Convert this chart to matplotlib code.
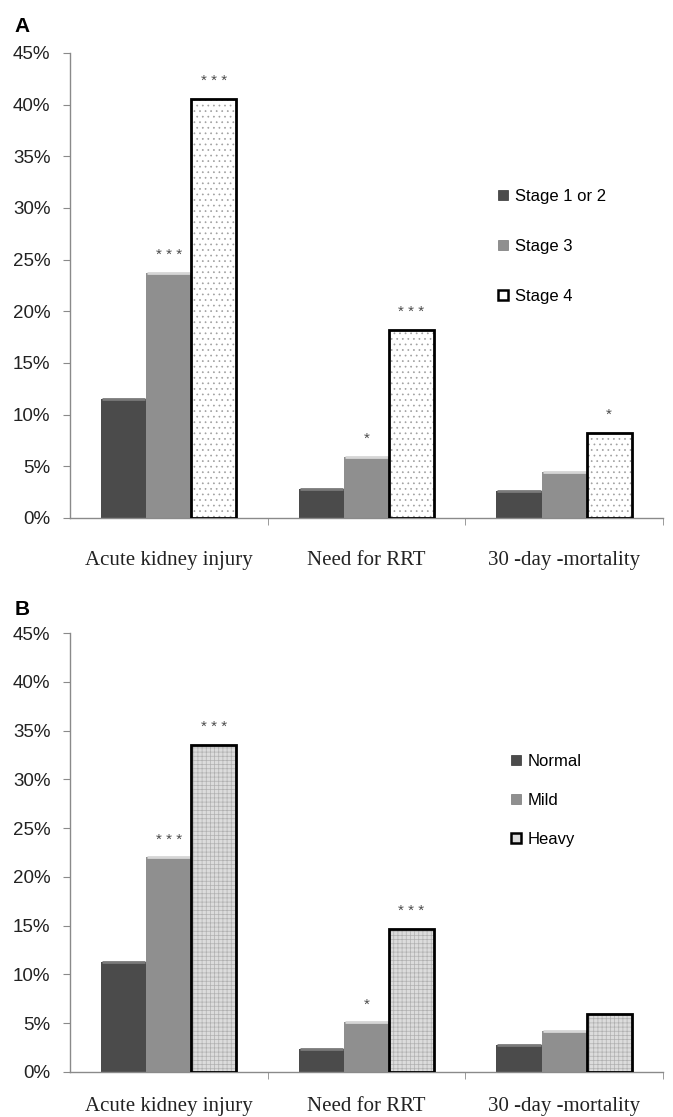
import numpy as np
import matplotlib
matplotlib.use("Agg")
import matplotlib.pyplot as plt
from matplotlib.patches import Patch

# ---------------- data ----------------
categories = ["Acute kidney injury", "Need for RRT", "30 -day -mortality"]

labels_a = ["Stage 1 or 2", "Stage 3", "Stage 4"]
values_a = [
    [11.5, 2.8, 2.6],    # Stage 1 or 2
    [23.7, 5.9, 4.4],    # Stage 3
    [40.5, 18.2, 8.2],   # Stage 4
]
stars_a = [
    ["", "", ""],
    ["***", "*", ""],
    ["***", "***", "*"],
]

labels_b = ["Normal", "Mild", "Heavy"]
values_b = [
    [11.3, 2.4, 2.8],    # Normal
    [22.0, 5.1, 4.2],    # Mild
    [33.5, 14.7, 5.9],   # Heavy
]
stars_b = [
    ["", "", ""],
    ["***", "*", ""],
    ["***", "***", ""],
]

yticks = [0, 5, 10, 15, 20, 25, 30, 35, 40, 45]

plt.rcParams["font.family"] = ["Liberation Sans", "DejaVu Sans"]
plt.rcParams["hatch.linewidth"] = 0.5

fig = plt.figure(figsize=(6.73, 11.17), dpi=100)

ax_a = fig.add_axes([0.104, 0.5363, 0.881, 0.4163])
ax_b = fig.add_axes([0.104, 0.0403, 0.881, 0.3930])

bar_w = 0.228
offsets = [-bar_w, 0, bar_w]
AXIS_GREY = "#8a8a8a"


def draw_panel(ax, values, stars, labels, last_face, last_hatch, hatch_col,
               leg_xy, leg_space, label_pad):
    x = np.arange(len(categories))
    fills = ["#4b4b4b", "#8f8f8f"]
    tops = ["#7a7a7a", "#d6d6d6"]
    for i in range(2):
        ax.bar(x + offsets[i], values[i], bar_w, color=fills[i],
               edgecolor="none", zorder=2)
        ax.hlines(values[i], x + offsets[i] - bar_w / 2 + 0.005,
                  x + offsets[i] + bar_w / 2 - 0.005, color=tops[i],
                  lw=2, zorder=3)
    # hatched series: pattern layer then thick black outline
    ax.bar(x + offsets[2], values[2], bar_w, color=last_face,
           edgecolor=hatch_col, linewidth=0, hatch=last_hatch, zorder=2)
    ax.bar(x + offsets[2], values[2], bar_w, fill=False,
           edgecolor="black", linewidth=2.0, zorder=4)

    for i in range(3):
        for j in range(len(categories)):
            if stars[i][j]:
                ax.text(x[j] + offsets[i], values[i][j] + 1.1,
                        " ".join(stars[i][j]),
                        ha="center", va="bottom", fontsize=11, color="#4a4a4a")

    ax.set_xlim(-0.5, 2.5)
    ax.set_ylim(0, 45)
    ax.set_yticks(yticks)
    ax.set_yticklabels([f"{t}%" for t in yticks], fontsize=13.5, color="#222222")
    ax.tick_params(axis="y", direction="out", length=5, color=AXIS_GREY, pad=9)

    ax.set_xticks(x)
    ax.set_xticklabels(categories, fontsize=15, family=["Liberation Serif"],
                       color="#222222")
    ax.tick_params(axis="x", which="major", length=0, pad=label_pad)
    ax.set_xticks([0.5, 1.5, 2.5], minor=True)
    ax.tick_params(axis="x", which="minor", direction="out", length=5,
                   color=AXIS_GREY)

    for s in ["top", "right"]:
        ax.spines[s].set_visible(False)
    for s in ["left", "bottom"]:
        ax.spines[s].set_color(AXIS_GREY)
        ax.spines[s].set_linewidth(1.0)

    handles = [
        Patch(facecolor=fills[0], edgecolor="#333333", linewidth=0.5),
        Patch(facecolor=fills[1], edgecolor="#777777", linewidth=0.5),
        Patch(facecolor=last_face, edgecolor="black", linewidth=1.8),
    ]
    ax.legend(handles, labels, loc="upper left", bbox_to_anchor=leg_xy,
              frameon=False, fontsize=12, handlelength=0.6, handleheight=0.6,
              handletextpad=0.4, labelspacing=leg_space, borderpad=0,
              borderaxespad=0)


draw_panel(ax_a, values_a, stars_a, labels_a, "white", "...", "#a0a0a0",
           (0.722, 0.708), 2.1, 24)
draw_panel(ax_b, values_b, stars_b, labels_b, "#dcdcdc", "++++", "#b0b0b0",
           (0.743, 0.725), 1.45, 18)

fig.text(0.021, 0.985, "A", fontsize=15, fontweight="bold", va="top")
fig.text(0.021, 0.463, "B", fontsize=15, fontweight="bold", va="top")

fig.savefig("out.png", dpi=100)
